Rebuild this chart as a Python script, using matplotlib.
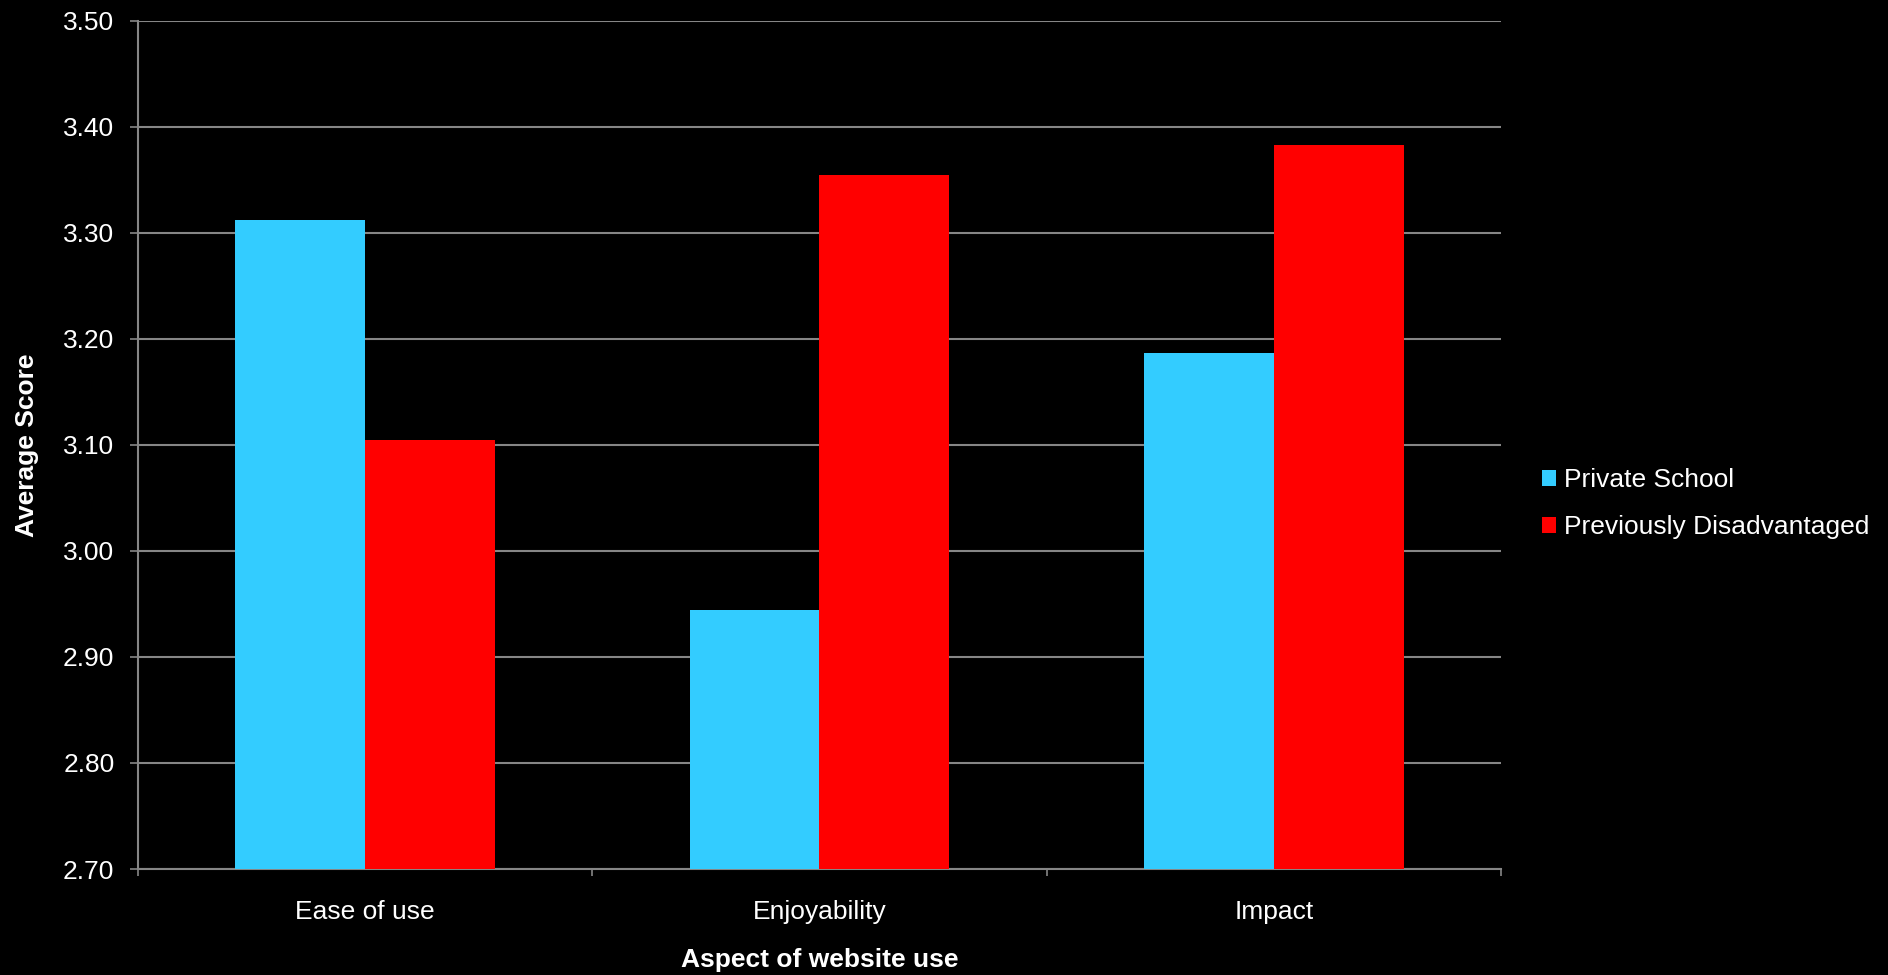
import numpy as np
import matplotlib.pyplot as plt

# Data
aspects = ['Ease of use', 'Enjoyability', 'Impact']
private_school = [3.312, 2.944, 3.187]
prev_disadv = [3.105, 3.354, 3.383]
series_names = ['Private School', 'Previously Disadvantaged']
yticks = np.arange(2.70, 3.501, 0.10)

plt.rcParams['font.family'] = ['Liberation Sans', 'DejaVu Sans']

fig = plt.figure(figsize=(18.88, 9.75), dpi=100, facecolor='black')
ax = fig.add_axes([0.0731, 0.1087, 0.7219, 0.8701], facecolor='black')

x = np.arange(len(aspects))
w = 1 / 3.5
ax.bar(x - w / 2, private_school, w, color='#33CCFF', label=series_names[0], zorder=3)
ax.bar(x + w / 2, prev_disadv, w, color='#FF0000', label=series_names[1], zorder=3)

ax.set_xlim(-0.5, len(aspects) - 0.5)
ax.set_ylim(2.70, 3.50)
ax.set_yticks(yticks)
ax.set_yticklabels(['%.2f' % v for v in yticks])
ax.set_xticks(x)
ax.set_xticklabels(aspects)
ax.set_xticks(np.arange(-0.5, len(aspects)), minor=True)

gray = '#868686'
ax.grid(axis='y', color=gray, linewidth=1.5, zorder=0)
for s in ['top', 'right']:
    ax.spines[s].set_visible(False)
for s in ['left', 'bottom']:
    ax.spines[s].set_color(gray)
    ax.spines[s].set_linewidth(1.5)

ax.tick_params(axis='y', colors=gray, labelcolor='white', labelsize=19,
               length=6, width=1.2, pad=11)
ax.tick_params(axis='x', which='major', length=0, labelcolor='white',
               labelsize=19, pad=22)
ax.tick_params(axis='x', which='minor', length=5, width=1.2, colors=gray)

ax.set_xlabel('Aspect of website use', color='white', fontsize=19,
              fontweight='bold')
ax.xaxis.set_label_coords(0.5, -0.093)
ax.set_ylabel('Average Score', color='white', fontsize=19, fontweight='bold')
ax.yaxis.set_label_coords(-0.073, 0.5)

leg = fig.legend(loc='center left', bbox_to_anchor=(0.8165, 0.4835),
                 frameon=False, fontsize=19, handlelength=0.55,
                 handleheight=0.55, handletextpad=0.3, labelspacing=0.87,
                 borderpad=0, borderaxespad=0)
for t in leg.get_texts():
    t.set_color('white')

plt.savefig('out.png', dpi=100, facecolor='black')
